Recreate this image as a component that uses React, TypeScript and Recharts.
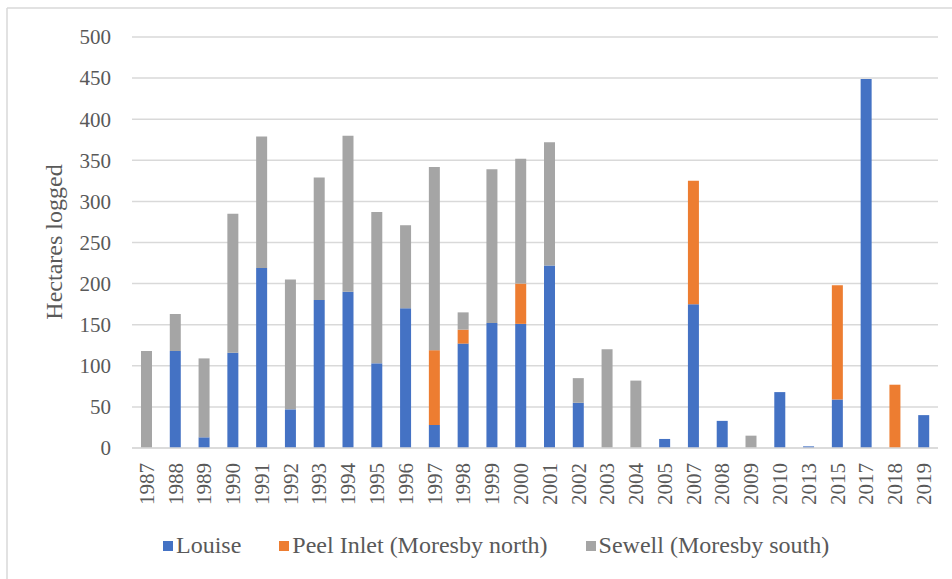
import React from 'react';
import { BarChart, Bar, XAxis, YAxis, CartesianGrid } from 'recharts';

// Hectares logged per year, by area
const years = [
  '1987', '1988', '1989', '1990', '1991', '1992', '1993', '1994', '1995', '1996',
  '1997', '1998', '1999', '2000', '2001', '2002', '2003', '2004', '2005', '2007',
  '2008', '2009', '2010', '2013', '2015', '2017', '2018', '2019',
];
const louise = [0, 118, 13, 116, 219, 47, 180, 190, 103, 170, 28, 127, 152, 151, 222, 55, 0, 0, 11, 175, 33, 0, 68, 2, 59, 449, 0, 40];
const peelInlet = [0, 0, 0, 0, 0, 0, 0, 0, 0, 0, 91, 17, 0, 49, 0, 0, 0, 0, 0, 150, 0, 0, 0, 0, 139, 0, 77, 0];
const sewell = [118, 45, 96, 169, 160, 158, 149, 190, 184, 101, 223, 21, 187, 152, 150, 30, 120, 82, 0, 0, 0, 15, 0, 0, 0, 0, 0, 0];
const yTicks = [0, 50, 100, 150, 200, 250, 300, 350, 400, 450, 500];

const series = [
  { key: 'louise', name: 'Louise', color: '#4472c4' },
  { key: 'peel', name: 'Peel Inlet (Moresby north)', color: '#ed7d31' },
  { key: 'sewell', name: 'Sewell (Moresby south)', color: '#a5a5a5' },
];

const data = years.map((year, i) => ({
  year,
  louise: louise[i],
  peel: peelInlet[i],
  sewell: sewell[i],
}));

const FONT = "'Liberation Serif', serif";
const TEXT = '#595959';
const GRID = '#d9d9d9';

function YearTick(props: any) {
  const { x, y, payload } = props;
  return (
    <text
      transform={`translate(${x},${y}) rotate(-90)`}
      textAnchor="end"
      dy="0.35em"
      style={{ fontFamily: FONT }}
      fontSize={21}
      fill={TEXT}
    >
      {payload.value}
    </text>
  );
}

function ValueTick(props: any) {
  const { x, y, payload } = props;
  return (
    <text x={x} y={y} textAnchor="end" dy="0.35em" style={{ fontFamily: FONT }} fontSize={21} fill={TEXT}>
      {payload.value}
    </text>
  );
}

export default function App() {
  return (
    <div
      style={{
        position: 'absolute',
        left: 0,
        top: 0,
        width: 952,
        height: 579,
        background: '#fff',
        fontFamily: FONT,
      }}
    >
      <svg width={952} height={579} style={{ position: 'absolute', left: 0, top: 0 }}>
        <line x1={7} y1={8} x2={952} y2={8} stroke={GRID} strokeWidth={1.5} />
        <line x1={7} y1={8} x2={7} y2={579} stroke={GRID} strokeWidth={1.5} />
        <text
          transform="translate(54,242) rotate(-90)"
          textAnchor="middle"
          dy="0.35em"
          style={{ fontFamily: FONT }}
          fontSize={24}
          fill={TEXT}
        >
          Hectares logged
        </text>
      </svg>
      <div style={{ position: 'absolute', left: 0, top: 0 }}>
        <BarChart
          width={952}
          height={579}
          data={data}
          margin={{ top: 37, right: 14, left: 0, bottom: 0 }}
          barSize={11}
        >
          <CartesianGrid vertical={false} stroke={GRID} strokeWidth={1.5} />
          <XAxis
            dataKey="year"
            interval={0}
            height={131}
            axisLine={{ stroke: GRID, strokeWidth: 1.5 }}
            tickLine={false}
            tickSize={0}
            tickMargin={15}
            tick={<YearTick />}
          />
          <YAxis
            width={132}
            domain={[0, 500]}
            ticks={yTicks}
            axisLine={false}
            tickLine={false}
            tickSize={0}
            tickMargin={21}
            tick={<ValueTick />}
          />
          {series.map((s) => (
            <Bar key={s.key} dataKey={s.key} name={s.name} stackId="a" fill={s.color} isAnimationActive={false} />
          ))}
        </BarChart>
      </div>
      <div
        style={{
          position: 'absolute',
          top: 532,
          left: 163,
          display: 'flex',
          alignItems: 'center',
          fontSize: 24,
          color: TEXT,
          whiteSpace: 'nowrap',
        }}
      >
        {series.map((s) => (
          <div key={s.key} style={{ display: 'flex', alignItems: 'center', marginRight: 38 }}>
            <span style={{ display: 'inline-block', width: 10, height: 10, background: s.color, marginRight: 3 }} />
            <span>{s.name}</span>
          </div>
        ))}
      </div>
    </div>
  );
}
